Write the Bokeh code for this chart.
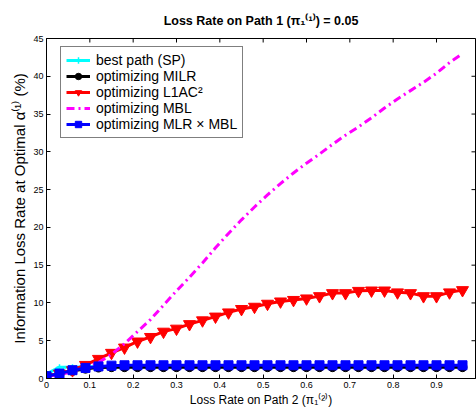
import math
from bokeh.plotting import figure
from bokeh.models import FixedTicker, Range1d, Legend, LegendItem
from bokeh.embed import file_html
from bokeh.resources import INLINE

# ---- data ----
loss_path2 = [0.00, 0.03, 0.06, 0.09, 0.12, 0.15, 0.18, 0.21, 0.24, 0.27, 0.30,
              0.33, 0.36, 0.39, 0.42, 0.45, 0.48, 0.51, 0.54, 0.57, 0.60, 0.63,
              0.66, 0.69, 0.72, 0.75, 0.78, 0.81, 0.84, 0.87, 0.90, 0.93, 0.96]

best_path_sp = [0.6, 1.5, 1.5, 1.55, 1.55, 1.55, 1.55, 1.55, 1.55, 1.55, 1.55,
                1.55, 1.55, 1.55, 1.55, 1.55, 1.55, 1.55, 1.55, 1.55, 1.55, 1.55,
                1.55, 1.55, 1.55, 1.55, 1.55, 1.55, 1.55, 1.55, 1.55, 1.55, 1.55]

opt_milr = [0.3, 0.6, 1.0, 1.3, 1.45, 1.5, 1.5, 1.5, 1.5, 1.5, 1.5,
            1.5, 1.5, 1.5, 1.5, 1.5, 1.5, 1.5, 1.5, 1.5, 1.5, 1.5,
            1.5, 1.5, 1.5, 1.5, 1.5, 1.5, 1.5, 1.5, 1.5, 1.5, 1.5]

opt_l1ac2 = [0.2, 0.65, 1.1, 1.8, 2.6, 3.4, 4.1, 4.9, 5.5, 6.2, 6.6,
             7.2, 7.7, 8.2, 8.75, 9.2, 9.5, 9.9, 10.2, 10.4, 10.6, 10.9,
             11.3, 11.3, 11.6, 11.65, 11.65, 11.4, 11.3, 10.9, 10.9, 11.4, 11.7]

opt_mbl = [0.3, 0.5, 0.9, 1.5, 2.1, 3.2, 4.6, 6.2, 7.8, 9.7, 11.6,
           13.4, 15.3, 17.3, 19.2, 21.0, 22.7, 24.3, 25.8, 27.2, 28.5, 29.7,
           31.0, 32.2, 33.3, 34.5, 35.8, 37.0, 38.1, 39.2, 40.4, 41.8, 43.0]

opt_mlr_mbl = [0.3, 0.65, 1.1, 1.4, 1.6, 1.7, 1.75, 1.75, 1.75, 1.75, 1.75,
               1.75, 1.75, 1.75, 1.75, 1.75, 1.75, 1.75, 1.75, 1.75, 1.75, 1.75,
               1.75, 1.75, 1.75, 1.75, 1.75, 1.75, 1.75, 1.75, 1.75, 1.75, 1.75]

x_ticks = [0, 0.1, 0.2, 0.3, 0.4, 0.5, 0.6, 0.7, 0.8, 0.9]
y_ticks = [0, 5, 10, 15, 20, 25, 30, 35, 40, 45]
x_min, x_max = 0, 0.99
y_min, y_max = 0, 45

title_text = "Loss Rate on Path 1 (π₁⁽¹⁾) = 0.05"
x_label_text = "Loss Rate on Path 2 (π₁⁽²⁾)"
y_label_text = "Information Loss Rate at Optimal α⁽¹⁾ (%)"

FONT = "Liberation Sans"

p = figure(width=476, height=409, x_range=Range1d(x_min, x_max), y_range=Range1d(y_min, y_max),
           output_backend="svg", toolbar_location=None,
           min_border_left=46, min_border_right=1, min_border_top=0, min_border_bottom=30)
p.title.text = title_text
p.title.text_font = FONT
p.title.text_font_size = "12.5px"
p.title.text_font_style = "bold"
p.title.text_color = "black"
p.title.align = "center"
p.title.standoff = 4
p.title.padding = 9

p.xgrid.visible = False
p.ygrid.visible = False
p.outline_line_color = "black"
p.outline_line_alpha = 1.0
p.background_fill_color = "white"
p.border_fill_color = "white"

def style_axis(ax, ticks):
    ax.ticker = FixedTicker(ticks=ticks)
    ax.major_tick_in = 4
    ax.major_tick_out = 0
    ax.minor_tick_line_color = None
    ax.axis_line_color = "black"
    ax.major_tick_line_color = "black"
    ax.major_label_text_font = FONT
    ax.major_label_text_font_size = "9px"
    ax.major_label_text_color = "black"
    ax.major_label_standoff = 3
    ax.axis_label_text_font = FONT
    ax.axis_label_text_font_style = "normal"
    ax.axis_label_text_color = "black"

style_axis(p.xaxis[0], x_ticks)
style_axis(p.yaxis[0], y_ticks)
p.xaxis[0].major_label_overrides = {0: "0"}
p.xaxis.axis_label = x_label_text
p.yaxis.axis_label = y_label_text
p.xaxis[0].axis_label_text_font_size = "12px"
p.yaxis[0].axis_label_text_font_size = "15px"
p.xaxis[0].axis_label_standoff = 2
p.yaxis[0].axis_label_standoff = 2

# box ticks on the top and right edges (inward, clipped to the frame)
p.scatter(x_ticks, [y_max] * len(x_ticks), marker="dash", angle=math.pi / 2, size=8,
          line_color="black", line_width=1)
p.scatter([x_max] * len(y_ticks), y_ticks, marker="dash", size=8,
          line_color="black", line_width=1)

LW = 3
r_sp_l = p.line(loss_path2, best_path_sp, line_color="cyan", line_width=LW)
r_sp_m = p.scatter(loss_path2, best_path_sp, marker="cross", size=6, line_color="cyan", line_width=1.5)

r_milr_l = p.line(loss_path2, opt_milr, line_color="black", line_width=LW)
r_milr_m = p.scatter(loss_path2, opt_milr, marker="circle", size=9, fill_color="black", line_color="black")

r_l1_l = p.line(loss_path2, opt_l1ac2, line_color="red", line_width=LW)
r_l1_m = p.scatter(loss_path2, opt_l1ac2, marker="inverted_triangle", size=12, fill_color="red", line_color="red")

r_mbl_l = p.line(loss_path2, opt_mbl, line_color="magenta", line_width=LW, line_dash="8 4 2 4")

r_mm_l = p.line(loss_path2, opt_mlr_mbl, line_color="blue", line_width=LW)
r_mm_m = p.scatter(loss_path2, opt_mlr_mbl, marker="square", size=9, fill_color="blue", line_color="blue")

legend = Legend(items=[
    LegendItem(label="best path (SP)", renderers=[r_sp_l, r_sp_m]),
    LegendItem(label="optimizing MILR", renderers=[r_milr_l, r_milr_m]),
    LegendItem(label="optimizing L1AC²", renderers=[r_l1_l, r_l1_m]),
    LegendItem(label="optimizing MBL", renderers=[r_mbl_l]),
    LegendItem(label="optimizing MLR × MBL", renderers=[r_mm_l, r_mm_m]),
], location=(14, 240))
legend.label_text_font = FONT
legend.label_text_font_size = "14px"
legend.label_text_color = "black"
legend.glyph_width = 24
legend.glyph_height = 16
legend.label_height = 16
legend.spacing = 0
legend.padding = 5
legend.margin = 0
legend.label_standoff = 6
legend.border_line_color = "black"
legend.border_line_width = 1
legend.background_fill_alpha = 1.0
p.add_layout(legend, "center")

open("out.html", "w").write(file_html(p, INLINE))
